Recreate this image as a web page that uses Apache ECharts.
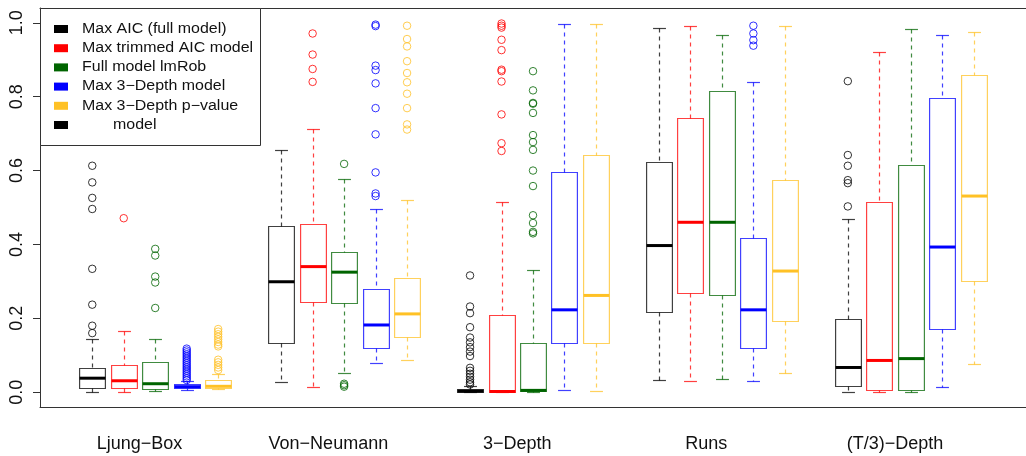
<!DOCTYPE html>
<html><head><meta charset="utf-8">
<script src="https://cdn.jsdelivr.net/npm/echarts@6/dist/echarts.min.js"></script>
<style>html,body{margin:0;padding:0;background:#fff}#c{width:1026px;height:456px}</style>
</head><body><div id="c"></div>
<script>
// ---- data ----
const groups = ['Ljung−Box', 'Von−Neumann', '3−Depth', 'Runs', '(T/3)−Depth'];
const methods = ['Max AIC (full model)', 'Max trimmed AIC model', 'Full model lmRob', 'Max 3−Depth model', 'Max 3−Depth p−value model'];
const legendLabels = ['Max AIC (full model)', 'Max trimmed AIC model', 'Full model lmRob', 'Max 3−Depth model', 'Max 3−Depth p−value', '       model'];
const yTicks = [0, 0.2, 0.4, 0.6, 0.8, 1.0];

// box stats per group: [lower whisker, Q1, median, Q3, upper whisker]
const aicFullBox = [[0.001,0.012,0.038,0.066,0.144],[0.027,0.133,0.299,0.451,0.655],[0.0,0.001,0.003,0.009,0.018],[0.034,0.217,0.397,0.622,0.987],[0.001,0.016,0.067,0.199,0.469]];
const aicFullOut = [[0.613,0.568,0.526,0.496,0.334,0.237,0.180,0.160],[],[0.316,0.232,0.214,0.176,0.148,0.135,0.122,0.110,0.098,0.066,0.058,0.050,0.042,0.034,0.027,0.021],[],[0.842,0.642,0.613,0.574,0.566,0.503]];

const trimmedBox = [[0.001,0.012,0.031,0.075,0.166],[0.013,0.243,0.340,0.454,0.712],[0.0,0.001,0.002,0.210,0.515],[0.030,0.268,0.460,0.743,0.991],[0.001,0.007,0.086,0.515,0.920]];
const trimmedOut = [[0.471],[0.971,0.914,0.875,0.840],[0.998,0.992,0.987,0.954,0.926,0.873,0.869,0.841,0.752,0.674,0.653],[],[]];

const lmRobBox = [[0.002,0.009,0.023,0.082,0.143],[0.052,0.241,0.325,0.380,0.577],[0.0,0.002,0.005,0.133,0.331],[0.037,0.264,0.460,0.814,0.968],[0.001,0.007,0.091,0.615,0.983]];
const lmRobOut = [[0.388,0.370,0.313,0.297,0.228],[0.618,0.023,0.019,0.015],[0.869,0.817,0.783,0.781,0.756,0.696,0.677,0.656,0.600,0.558,0.479,0.458,0.434,0.430],[],[]];

const depthBox = [[0.005,0.012,0.015,0.021,0.030],[0.079,0.120,0.182,0.279,0.497],[0.005,0.133,0.223,0.596,0.997],[0.030,0.120,0.223,0.417,0.840],[0.013,0.172,0.393,0.796,0.968]];
const depthOut = [[0.118,0.113,0.108,0.103,0.098,0.093,0.088,0.083,0.078,0.073,0.068,0.063,0.058,0.053,0.048,0.043,0.038,0.033],[0.995,0.991,0.884,0.872,0.836,0.769,0.698,0.595,0.538,0.531],[],[0.992,0.971,0.953,0.938],[]];

const pvalueBox = [[0.009,0.012,0.016,0.032,0.048],[0.086,0.149,0.212,0.309,0.519],[0.002,0.133,0.262,0.641,0.997],[0.052,0.194,0.328,0.574,0.991],[0.076,0.301,0.531,0.860,0.975]];
const pvalueOut = [[0.171,0.164,0.157,0.150,0.143,0.136,0.129,0.124,0.088,0.081,0.074,0.067,0.060],[0.992,0.956,0.936,0.896,0.864,0.839,0.808,0.769,0.725,0.711],[],[],[]];

// ---- styling ----
const colors = ['#000000', '#ff0000', '#006400', '#0000ff', '#ffc125'];
const legendColors = ['#000000', '#ff0000', '#006400', '#0000ff', '#ffc125', '#000000'];
const boxes = [aicFullBox, trimmedBox, lmRobBox, depthBox, pvalueBox];
const outs = [aicFullOut, trimmedOut, lmRobOut, depthOut, pvalueOut];
const BOX_HALF = 0.41;
const labelPos = groups.map((g, i) => 6 * i + 2.5);

function makeRender(color) {
  return function (params, api) {
    const x = api.value(0);
    const p = k => api.coord([x, api.value(k)]);
    const lo = p(1), q1 = p(2), md = p(3), q3 = p(4), hi = p(5);
    const hw = api.size([BOX_HALF, 0])[0];
    const cx = Math.round(lo[0]) + 0.5;
    const r = v => Math.round(v) + 0.5;
    const thin = { stroke: color, lineWidth: 1.2, opacity: 0.75, fill: 'none' };
    const dash = Object.assign({}, thin, { lineDash: [4, 4] });
    return {
      type: 'group',
      children: [
        { type: 'line', shape: { x1: cx, y1: r(hi[1]), x2: cx, y2: r(q3[1]) }, style: dash },
        { type: 'line', shape: { x1: cx, y1: r(q1[1]), x2: cx, y2: r(lo[1]) }, style: dash },
        { type: 'line', shape: { x1: cx - hw / 2, y1: r(hi[1]), x2: cx + hw / 2, y2: r(hi[1]) }, style: thin },
        { type: 'line', shape: { x1: cx - hw / 2, y1: r(lo[1]), x2: cx + hw / 2, y2: r(lo[1]) }, style: thin },
        { type: 'rect', shape: { x: cx - hw, y: r(q3[1]), width: 2 * hw, height: r(q1[1]) - r(q3[1]) }, style: thin },
        { type: 'line', shape: { x1: cx - hw, y1: md[1], x2: cx + hw, y2: md[1] }, style: { stroke: color, lineWidth: 3 } }
      ]
    };
  };
}

const series = [];
methods.forEach((m, mi) => {
  series.push({
    type: 'custom', name: m, renderItem: makeRender(colors[mi]),
    encode: { x: 0, y: [1, 2, 3, 4, 5] },
    data: groups.map((g, gi) => [6 * gi + mi + 1].concat(boxes[mi][gi])),
    z: 2
  });
});
methods.forEach((m, mi) => {
  const d = [];
  groups.forEach((g, gi) => outs[mi][gi].forEach(v => d.push([6 * gi + mi + 1, v])));
  series.push({
    type: 'scatter', name: m, data: d, symbol: 'circle', symbolSize: 7.5,
    itemStyle: { color: 'rgba(0,0,0,0)', borderColor: colors[mi], borderWidth: 1, opacity: 0.8 },
    z: 3
  });
});

// legend drawn as graphic
const legendEls = [{
  type: 'rect', shape: { x: 40.5, y: 8.5, width: 220, height: 137 },
  style: { fill: '#fff', stroke: '#333', lineWidth: 1 }, z: 100
}];
legendLabels.forEach((t, i) => {
  const cy = 29 + 19.2 * i;
  legendEls.push({ type: 'rect', shape: { x: 54, y: cy - 4, width: 14, height: 8 }, style: { fill: legendColors[i] }, z: 101 });
  legendEls.push({
    type: 'text', x: 82, y: cy, scaleX: 1.14, originX: 0, originY: 0,
    style: { text: t, fontSize: 14, fontFamily: 'Liberation Sans, Arial, sans-serif', fill: '#111', verticalAlign: 'middle', align: 'left' },
    z: 101
  });
});

const chart = echarts.init(document.getElementById('c'), null, { renderer: 'canvas' });
chart.setOption({
  animation: false,
  backgroundColor: '#fff',
  grid: { left: 40, top: 8, width: 988, height: 399, containLabel: false },
  xAxis: [{
    type: 'value', min: -0.66, max: 30.66, position: 'bottom',
    axisLine: { show: true, onZero: false, lineStyle: { color: '#333', width: 1 } },
    axisTick: { show: false }, splitLine: { show: false },
    axisLabel: {
      customValues: labelPos, margin: 28, fontSize: 18, color: '#111',
      fontFamily: 'Liberation Sans, Arial, sans-serif',
      formatter: v => groups[Math.round((v - 2.5) / 6)]
    }
  }, {
    type: 'value', min: -0.66, max: 30.66, position: 'top',
    axisLine: { show: true, onZero: false, lineStyle: { color: '#333', width: 1 } },
    axisTick: { show: false }, axisLabel: { show: false }, splitLine: { show: false }
  }],
  yAxis: {
    type: 'value', min: -0.04, max: 1.04,
    axisLine: { show: true, onZero: false, lineStyle: { color: '#333', width: 1 } },
    axisTick: { show: true, customValues: yTicks, length: 7, lineStyle: { color: '#333' } },
    splitLine: { show: false },
    axisLabel: {
      customValues: yTicks, rotate: 90, margin: 14, fontSize: 18, color: '#111',
      fontFamily: 'Liberation Sans, Arial, sans-serif',
      formatter: v => v.toFixed(1)
    }
  },
  graphic: legendEls,
  series: series
});
</script></body></html>
